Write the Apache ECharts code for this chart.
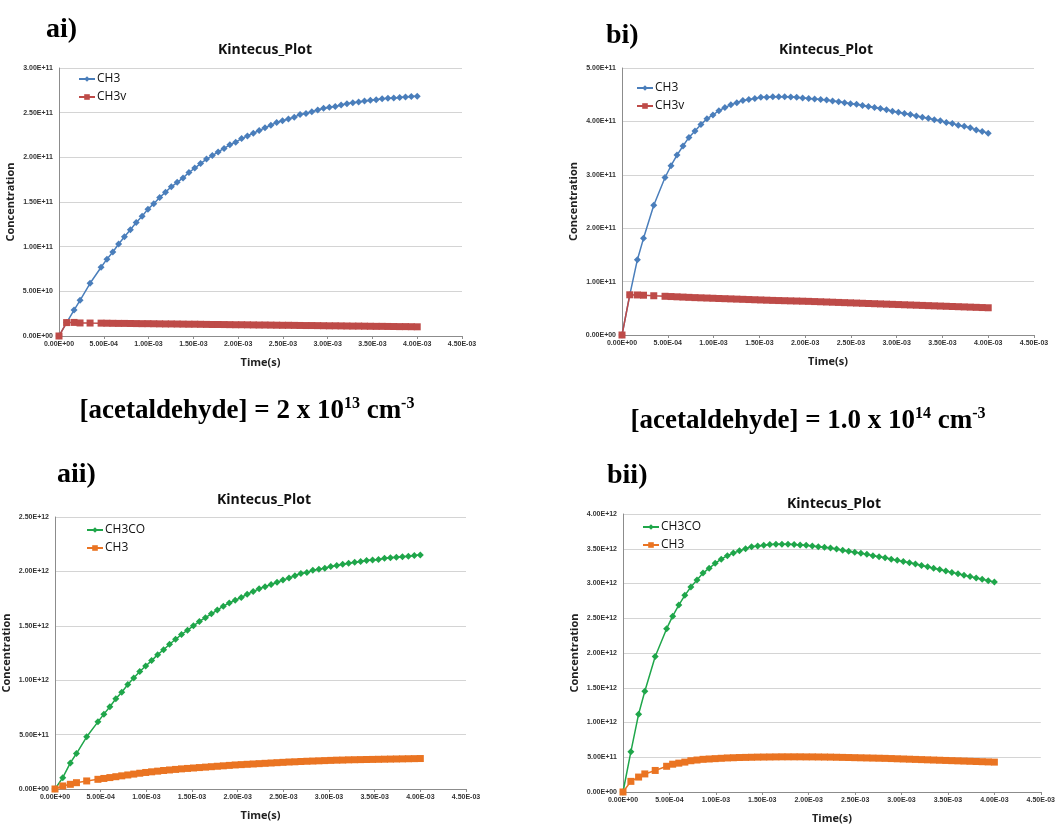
<!DOCTYPE html>
<html>
<head>
<meta charset="utf-8">
<script src="https://cdn.jsdelivr.net/npm/echarts@6/dist/echarts.min.js"></script>
<style>
    html, body { margin: 0; padding: 0; background: #fff; }
    #chart { width: 1058px; height: 825px; }
</style>
</head>
<body>
<div id="chart"></div>
<script>
// output times of the Kintecus run (s), same for all four panels
var time = [0, 0.085e-3, 0.168e-3, 0.235e-3, 0.347e-3, 0.470e-3, 0.535e-3, 0.601e-3, 0.666e-3, 0.731e-3,
    0.797e-3, 0.862e-3, 0.928e-3, 0.993e-3, 1.058e-3, 1.124e-3, 1.189e-3, 1.254e-3, 1.320e-3, 1.385e-3,
    1.451e-3, 1.516e-3, 1.581e-3, 1.647e-3, 1.712e-3, 1.777e-3, 1.843e-3, 1.908e-3, 1.973e-3, 2.039e-3,
    2.104e-3, 2.170e-3, 2.235e-3, 2.300e-3, 2.366e-3, 2.431e-3, 2.496e-3, 2.562e-3, 2.627e-3, 2.692e-3,
    2.758e-3, 2.823e-3, 2.889e-3, 2.954e-3, 3.019e-3, 3.085e-3, 3.150e-3, 3.215e-3, 3.281e-3, 3.346e-3,
    3.411e-3, 3.477e-3, 3.542e-3, 3.608e-3, 3.673e-3, 3.738e-3, 3.804e-3, 3.869e-3, 3.934e-3, 4.000e-3]

// ai) [acetaldehyde] = 2e13
var aiCH3 = [0, 0.15e11, 0.29e11, 0.40e11, 0.59e11, 0.77e11, 0.86e11, 0.94e11, 1.03e11, 1.11e11,
    1.19e11, 1.27e11, 1.34e11, 1.42e11, 1.48e11, 1.55e11, 1.61e11, 1.67e11, 1.72e11, 1.77e11,
    1.83e11, 1.88e11, 1.93e11, 1.98e11, 2.02e11, 2.06e11, 2.10e11, 2.14e11, 2.17e11, 2.21e11,
    2.24e11, 2.27e11, 2.30e11, 2.33e11, 2.36e11, 2.39e11, 2.41e11, 2.43e11, 2.45e11, 2.48e11,
    2.49e11, 2.51e11, 2.53e11, 2.55e11, 2.56e11, 2.57e11, 2.585e11, 2.60e11, 2.61e11, 2.62e11,
    2.63e11, 2.64e11, 2.645e11, 2.655e11, 2.66e11, 2.665e11, 2.67e11, 2.675e11, 2.68e11, 2.685e11]
var aiCH3v = [0, 1.50e10, 1.52e10, 1.46e10, 1.45e10, 1.44e10, 1.43e10, 1.42e10, 1.41e10, 1.41e10,
    1.40e10, 1.39e10, 1.38e10, 1.38e10, 1.37e10, 1.36e10, 1.35e10, 1.35e10, 1.34e10, 1.33e10,
    1.32e10, 1.32e10, 1.31e10, 1.30e10, 1.29e10, 1.29e10, 1.28e10, 1.27e10, 1.26e10, 1.26e10,
    1.25e10, 1.24e10, 1.23e10, 1.23e10, 1.22e10, 1.21e10, 1.20e10, 1.20e10, 1.19e10, 1.18e10,
    1.17e10, 1.17e10, 1.16e10, 1.15e10, 1.14e10, 1.14e10, 1.13e10, 1.12e10, 1.11e10, 1.11e10,
    1.10e10, 1.09e10, 1.08e10, 1.08e10, 1.07e10, 1.06e10, 1.05e10, 1.05e10, 1.04e10, 1.03e10]

// bi) [acetaldehyde] = 1.0e14
var biCH3 = [0, 0.75e11, 1.41e11, 1.81e11, 2.43e11, 2.95e11, 3.17e11, 3.37e11, 3.54e11, 3.70e11,
    3.82e11, 3.94e11, 4.05e11, 4.12e11, 4.20e11, 4.26e11, 4.31e11, 4.35e11, 4.39e11, 4.41e11,
    4.43e11, 4.45e11, 4.45e11, 4.46e11, 4.46e11, 4.46e11, 4.455e11, 4.45e11, 4.44e11, 4.43e11,
    4.42e11, 4.41e11, 4.40e11, 4.38e11, 4.37e11, 4.35e11, 4.33e11, 4.32e11, 4.30e11, 4.28e11,
    4.26e11, 4.24e11, 4.22e11, 4.19e11, 4.17e11, 4.15e11, 4.13e11, 4.10e11, 4.08e11, 4.06e11,
    4.03e11, 4.01e11, 3.98e11, 3.96e11, 3.93e11, 3.91e11, 3.88e11, 3.84e11, 3.81e11, 3.78e11]
var biCH3v = [0, 7.53e10, 7.50e10, 7.45e10, 7.35e10, 7.25e10, 7.20e10, 7.15e10, 7.10e10, 7.05e10,
    7.00e10, 6.96e10, 6.92e10, 6.88e10, 6.84e10, 6.80e10, 6.76e10, 6.72e10, 6.68e10, 6.64e10,
    6.60e10, 6.56e10, 6.52e10, 6.48e10, 6.45e10, 6.42e10, 6.39e10, 6.36e10, 6.33e10, 6.30e10,
    6.26e10, 6.22e10, 6.18e10, 6.14e10, 6.10e10, 6.06e10, 6.02e10, 5.98e10, 5.94e10, 5.90e10,
    5.86e10, 5.82e10, 5.78e10, 5.74e10, 5.70e10, 5.66e10, 5.62e10, 5.58e10, 5.54e10, 5.50e10,
    5.46e10, 5.42e10, 5.38e10, 5.34e10, 5.30e10, 5.26e10, 5.22e10, 5.18e10, 5.14e10, 5.10e10]

// aii)
var aiiCH3CO = [0, 0.104e12, 0.24e12, 0.326e12, 0.48e12, 0.617e12, 0.688e12, 0.756e12, 0.83e12, 0.89e12,
    0.96e12, 1.02e12, 1.08e12, 1.13e12, 1.18e12, 1.235e12, 1.28e12, 1.33e12, 1.376e12, 1.42e12,
    1.46e12, 1.50e12, 1.54e12, 1.575e12, 1.61e12, 1.645e12, 1.68e12, 1.71e12, 1.735e12, 1.76e12,
    1.79e12, 1.815e12, 1.84e12, 1.86e12, 1.88e12, 1.90e12, 1.92e12, 1.94e12, 1.96e12, 1.98e12,
    1.99e12, 2.01e12, 2.02e12, 2.03e12, 2.045e12, 2.055e12, 2.065e12, 2.075e12, 2.085e12, 2.09e12,
    2.10e12, 2.105e12, 2.11e12, 2.12e12, 2.125e12, 2.13e12, 2.135e12, 2.14e12, 2.145e12, 2.15e12]
var aiiCH3 = [0, 0.028e12, 0.043e12, 0.058e12, 0.074e12, 0.089e12, 0.097e12, 0.105e12, 0.113e12, 0.121e12,
    0.129e12, 0.137e12, 0.145e12, 0.152e12, 0.158e12, 0.164e12, 0.170e12, 0.175e12, 0.180e12, 0.185e12,
    0.189e12, 0.193e12, 0.197e12, 0.201e12, 0.205e12, 0.209e12, 0.213e12, 0.217e12, 0.221e12, 0.224e12,
    0.227e12, 0.230e12, 0.233e12, 0.236e12, 0.239e12, 0.242e12, 0.245e12, 0.248e12, 0.250e12, 0.253e12,
    0.255e12, 0.257e12, 0.259e12, 0.261e12, 0.263e12, 0.265e12, 0.266e12, 0.268e12, 0.269e12, 0.270e12,
    0.271e12, 0.272e12, 0.273e12, 0.274e12, 0.275e12, 0.276e12, 0.277e12, 0.278e12, 0.279e12, 0.280e12]

// bii)
var biiCH3CO = [0, 0.58e12, 1.12e12, 1.45e12, 1.95e12, 2.35e12, 2.53e12, 2.69e12, 2.83e12, 2.95e12,
    3.05e12, 3.15e12, 3.22e12, 3.29e12, 3.35e12, 3.40e12, 3.44e12, 3.47e12, 3.50e12, 3.53e12,
    3.54e12, 3.55e12, 3.56e12, 3.565e12, 3.565e12, 3.565e12, 3.56e12, 3.555e12, 3.55e12, 3.54e12,
    3.53e12, 3.52e12, 3.51e12, 3.495e12, 3.48e12, 3.465e12, 3.45e12, 3.435e12, 3.42e12, 3.40e12,
    3.385e12, 3.37e12, 3.35e12, 3.335e12, 3.315e12, 3.30e12, 3.28e12, 3.26e12, 3.24e12, 3.22e12,
    3.20e12, 3.18e12, 3.16e12, 3.14e12, 3.12e12, 3.10e12, 3.08e12, 3.06e12, 3.04e12, 3.02e12]
var biiCH3 = [0, 0.153e12, 0.215e12, 0.26e12, 0.31e12, 0.37e12, 0.40e12, 0.415e12, 0.43e12, 0.45e12,
    0.46e12, 0.47e12, 0.475e12, 0.48e12, 0.485e12, 0.49e12, 0.493e12, 0.496e12, 0.498e12, 0.50e12,
    0.502e12, 0.503e12, 0.504e12, 0.505e12, 0.506e12, 0.506e12, 0.506e12, 0.506e12, 0.505e12, 0.505e12,
    0.504e12, 0.503e12, 0.502e12, 0.500e12, 0.498e12, 0.496e12, 0.494e12, 0.492e12, 0.490e12, 0.488e12,
    0.486e12, 0.484e12, 0.481e12, 0.478e12, 0.475e12, 0.472e12, 0.469e12, 0.466e12, 0.463e12, 0.460e12,
    0.457e12, 0.454e12, 0.451e12, 0.448e12, 0.445e12, 0.442e12, 0.439e12, 0.436e12, 0.433e12, 0.430e12]

var panelLabels = ['ai)', 'bi)', 'aii)', 'bii)']
var yMax = [3e11, 5e11, 2.5e12, 4e12]
var yStep = [5e10, 1e11, 5e11, 5e11]

var BLUE = '#4a7ebb', RED = '#be4b48', GREEN = '#1fa64a', ORANGE = '#ea7422'

// excel style 0.00E+00
function sci(v) {
    var s = v.toExponential(2).toUpperCase()
    return s.replace(/E([+-])(\d)$/, 'E$10$2')
}

function pairs(ys) {
    var out = []
    for (var i = 0; i < time.length; i++) out.push([time[i], ys[i]])
    return out
}

// plot areas, pixel boxes
var grids = [
    { left: 59, top: 68, width: 403, height: 268 },
    { left: 622, top: 68, width: 412, height: 267 },
    { left: 54, top: 517, width: 412, height: 272 },
    { left: 623, top: 514, width: 421, height: 279 }
]

var xAxes = [], yAxes = [], titles = [], legends = [], series = []
var legendPos = [[73, 68], [631, 77], [81, 519], [637, 516]]
var titleX = [260, 821, 259, 829], titleY = [38, 38, 488, 492]

grids.forEach(function (g, i) {
    xAxes.push({
        gridIndex: i, type: 'value', min: 0, max: 4.5e-3, interval: 5e-4,
        name: 'Time(s)', nameLocation: 'middle', nameGap: 21,
        nameTextStyle: { fontFamily: 'Open Sans', fontWeight: 'bold', fontSize: 11, color: '#222' },
        axisLine: { lineStyle: { color: '#8c8c8c' } },
        axisTick: { show: true, length: 3, lineStyle: { color: '#8c8c8c' } },
        axisLabel: { formatter: sci, fontSize: 7, fontWeight: 'bold', color: '#333', margin: 5, fontFamily: 'Liberation Sans' },
        splitLine: { show: false }
    })
    yAxes.push({
        gridIndex: i, type: 'value', min: 0, max: yMax[i], interval: yStep[i],
        name: 'Concentration', nameLocation: 'middle', nameGap: 43,
        nameTextStyle: { fontFamily: 'Open Sans', fontWeight: 'bold', fontSize: 11, color: '#222' },
        axisLine: { show: true, lineStyle: { color: '#8c8c8c' } },
        axisTick: { show: false },
        axisLabel: { formatter: sci, fontSize: 7, fontWeight: 'bold', color: '#333', margin: 6, fontFamily: 'Liberation Sans' },
        splitLine: { lineStyle: { color: '#d4d4d4' } }
    })
    titles.push({
        text: 'Kintecus_Plot', left: titleX[i], top: titleY[i], textAlign: 'center',
        textStyle: { fontFamily: 'Open Sans', fontWeight: 'bold', fontSize: 14, color: '#111' }
    })
})

// panel letters
var letterX = [41, 601, 52, 602], letterY = [11, 17, 456, 457]
panelLabels.forEach(function (t, i) {
    titles.push({
        text: t, left: letterX[i], top: letterY[i],
        textStyle: { fontFamily: 'Liberation Serif', fontWeight: 'bold', fontSize: 28, color: '#000' }
    })
})

var capRich = {
    sup: { fontFamily: 'Liberation Serif', fontWeight: 'bold', fontSize: 16, color: '#000', verticalAlign: 'top', lineHeight: 30 }
}
titles.push({
    text: '[acetaldehyde] = 2 x 10{sup|13} cm{sup|-3}', left: 242, top: 391, textAlign: 'center',
    textStyle: { fontFamily: 'Liberation Serif', fontWeight: 'bold', fontSize: 27, color: '#000', lineHeight: 30, rich: capRich }
})
titles.push({
    text: '[acetaldehyde] = 1.0 x 10{sup|14} cm{sup|-3}', left: 803, top: 401, textAlign: 'center',
    textStyle: { fontFamily: 'Liberation Serif', fontWeight: 'bold', fontSize: 27, color: '#000', lineHeight: 30, rich: capRich }
})

function line(name, idx, ys, color, symbol, size) {
    return {
        name: name, type: 'line', xAxisIndex: idx, yAxisIndex: idx,
        data: pairs(ys), symbol: symbol, symbolSize: size, showSymbol: true,
        color: color, lineStyle: { width: 1.5, color: color },
        itemStyle: { color: color }, animation: false
    }
}

series.push(line('CH3', 0, aiCH3, BLUE, 'diamond', 7))
series.push(line('CH3v', 0, aiCH3v, RED, 'rect', 7))
series.push(line('CH3 ', 1, biCH3, BLUE, 'diamond', 7))
series.push(line('CH3v ', 1, biCH3v, RED, 'rect', 7))
series.push(line('CH3CO', 2, aiiCH3CO, GREEN, 'diamond', 7))
series.push(line('CH3  ', 2, aiiCH3, ORANGE, 'rect', 7))
series.push(line('CH3CO ', 3, biiCH3CO, GREEN, 'diamond', 7))
series.push(line('CH3   ', 3, biiCH3, ORANGE, 'rect', 7))

var legendData = [['CH3', 'CH3v'], ['CH3 ', 'CH3v '], ['CH3CO', 'CH3  '], ['CH3CO ', 'CH3   ']]
legendData.forEach(function (d, i) {
    legends.push({
        data: d, orient: 'vertical', left: legendPos[i][0], top: legendPos[i][1],
        itemWidth: 16, itemHeight: 7, itemGap: 6, selectedMode: false,
        textStyle: { fontFamily: 'Open Sans', fontSize: 12, color: '#111', padding: [0, 0, 0, -3] }
    })
})

var chart = echarts.init(document.getElementById('chart'))
chart.setOption({
    backgroundColor: '#fff',
    animation: false,
    title: titles,
    legend: legends,
    grid: grids,
    xAxis: xAxes,
    yAxis: yAxes,
    series: series
})
</script>
</body>
</html>
